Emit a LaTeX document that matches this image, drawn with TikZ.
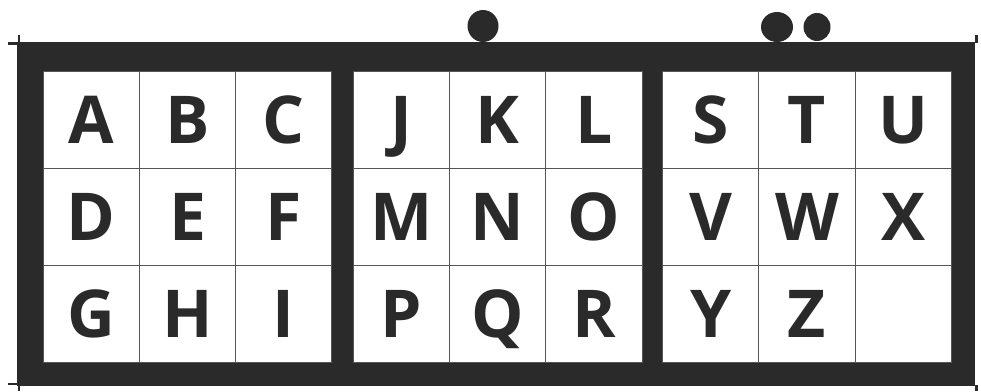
\documentclass[tikz,border=0pt]{standalone}
\usepackage{fontspec}
\setmainfont{Open Sans}
\definecolor{ink}{HTML}{2A2A2A}
\definecolor{thin}{HTML}{555555}
\begin{document}
\begin{tikzpicture}[x=1pt,y=-1pt,
  cellbox/.style={draw=thin,line width=1pt,fill=white,minimum width=96.33pt,minimum height=97pt,
    inner sep=0pt,text height=47pt,text depth=0pt,text=ink,
    font=\fontsize{66}{66}\bfseries\selectfont},
  tick/.style={draw=ink,line width=2.6pt},
  dotmark/.style={fill=ink}]
\useasboundingbox (0,0) rectangle (981,391);
% outer frame
\fill[ink] (17,42) rectangle (975,386);
% corner ticks
\coordinate (tl1) at (8,43.5); \coordinate (tl2) at (17,43.5);
\coordinate (tl3) at (19,35); \coordinate (tl4) at (19,42);
\coordinate (bl1) at (8,384); \coordinate (bl2) at (17,384);
\coordinate (bl3) at (19,386); \coordinate (bl4) at (19,391);
\coordinate (tr1) at (976.5,35); \coordinate (tr2) at (976.5,43);
\coordinate (br1) at (976.5,385); \coordinate (br2) at (976.5,391);
\draw[tick] (tl1) -- (tl2);
\draw[tick] (tl3) -- (tl4);
\draw[tick] (bl1) -- (bl2);
\draw[tick] (bl3) -- (bl4);
\draw[tick] (tr1) -- (tr2);
\draw[tick] (br1) -- (br2);
% dots
\fill[dotmark] (483,26) ellipse [x radius=15.5pt, y radius=16pt];
\fill[dotmark] (777,27) ellipse [x radius=16pt, y radius=15pt];
\fill[dotmark] (817,27) ellipse [x radius=13.5pt, y radius=14pt];
% cells
\foreach \g/\x in {1/43,2/353,3/662.5}{
  \foreach \c in {0,1,2}{
    \foreach \r in {0,1,2}{
      \node[cellbox] (c\g\r\c) at ({\x+(\c+0.5)*96.33},{71+(\r+0.5)*97}) {};
    }
  }
}
% letters
\foreach \g/\r/\c/\t in {1/0/0/A,1/0/1/B,1/0/2/C,1/1/0/D,1/1/1/E,1/1/2/F,1/2/0/G,1/2/1/H,1/2/2/I,
  2/0/0/J,2/0/1/K,2/0/2/L,2/1/0/M,2/1/1/N,2/1/2/O,2/2/0/P,2/2/1/Q,2/2/2/R,
  3/0/0/S,3/0/1/T,3/0/2/U,3/1/0/V,3/1/1/W,3/1/2/X,3/2/0/Y,3/2/1/Z}{
  \node[cellbox,draw=none,fill=none] (l\g\r\c) at (c\g\r\c.center) {\t};
}
\end{tikzpicture}
\end{document}
